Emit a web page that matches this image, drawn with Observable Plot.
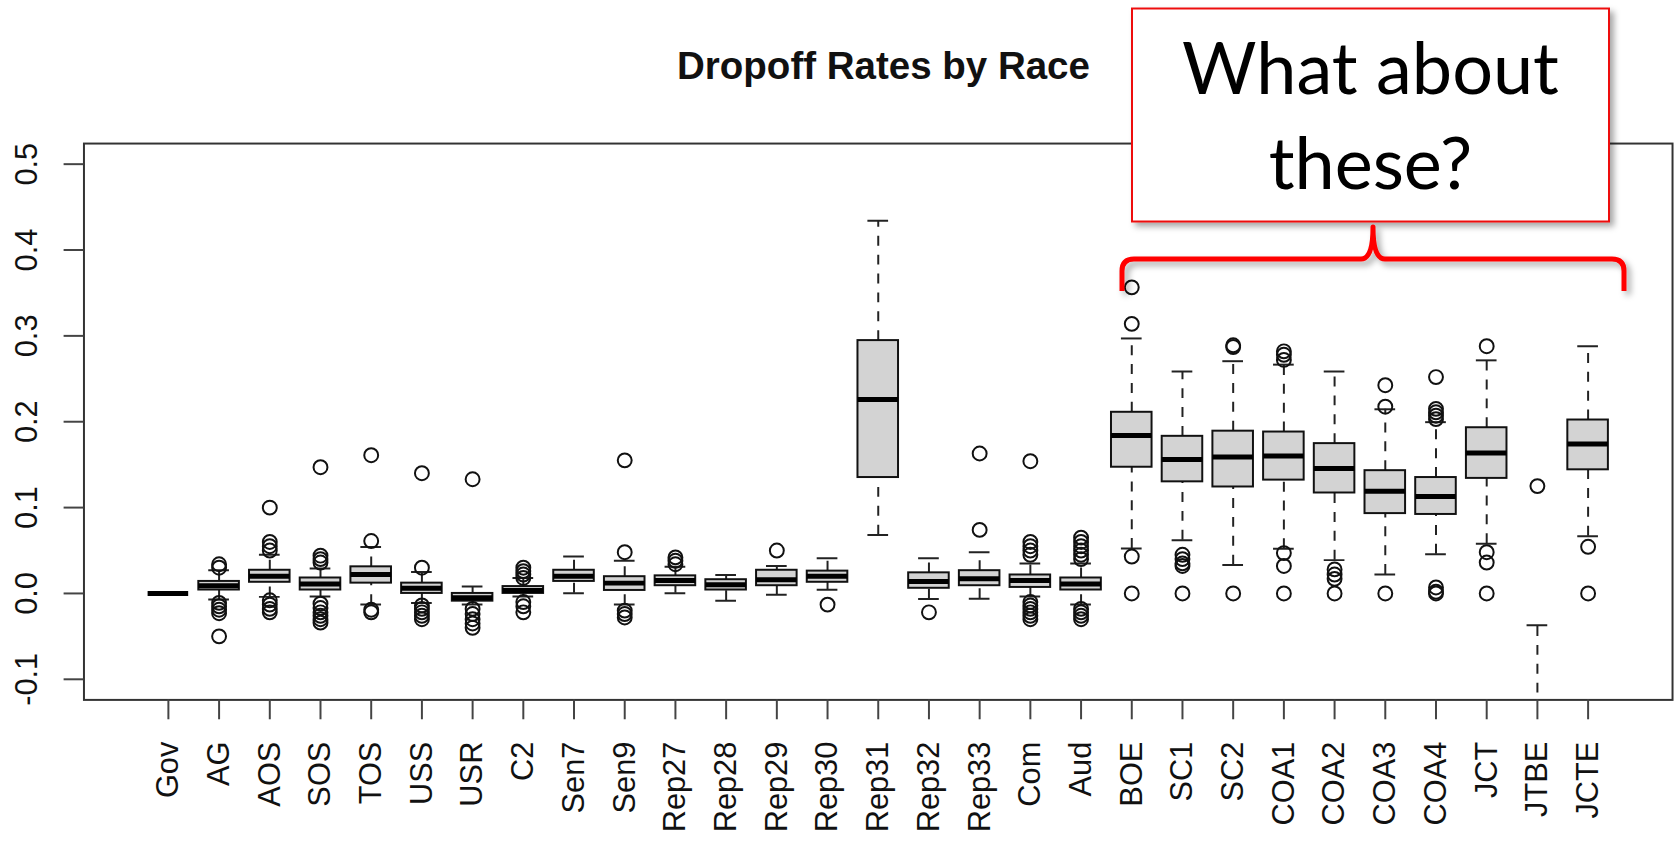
<!DOCTYPE html>
<html>
<head>
<meta charset="utf-8">
<script src="https://cdn.jsdelivr.net/npm/d3@7"></script>
<script src="https://cdn.jsdelivr.net/npm/@observablehq/plot@0.6"></script>
<style>
  html, body { margin: 0; padding: 0; background: #fff; overflow: hidden; }
  #wrap { position: relative; width: 1679px; height: 843px; overflow: hidden; }
  #chart { position: absolute; left: 0; top: 0; }
  #overlay { position: absolute; left: 0; top: 0; pointer-events: none; }
</style>
</head>
<body>
<div id="wrap">
  <div id="chart"></div>
  <svg id="overlay" width="1679" height="843" xmlns="http://www.w3.org/2000/svg">
    <defs>
      <filter id="shadow" x="-10%" y="-10%" width="130%" height="130%">
        <feDropShadow dx="4" dy="4" stdDeviation="3" flood-color="#000" flood-opacity="0.35"/>
      </filter>
    </defs>
    <text id="title" x="883.5" y="79.3" text-anchor="middle" font-family="'Liberation Sans', Arial, Helvetica, sans-serif" font-weight="bold" font-size="38.5" fill="#111"></text>
    <rect x="1132" y="8.5" width="477" height="213" fill="#fff" stroke="#ee1111" stroke-width="2" filter="url(#shadow)"/>
    <text id="call1" x="1370.5" y="94" text-anchor="middle" font-family="Lato, 'Open Sans', sans-serif" font-size="72" fill="#000"></text>
    <text id="call2" x="1370.5" y="189" text-anchor="middle" font-family="Lato, 'Open Sans', sans-serif" font-size="72" fill="#000"></text>
    <path d="M1122,291 L1122,271 Q1122,259 1134,259 L1361,259 Q1373,259 1373,227 Q1373,259 1385,259 L1612,259 Q1624,259 1624,271 L1624,291"
          fill="none" stroke="#ff0000" stroke-width="5" stroke-linejoin="round" filter="url(#shadow)"/>
  </svg>
</div>
<script>
// ---- data ----
const titleText = "Dropoff Rates by Race";
const calloutLines = ["What about", "these?"];

const names = ["Gov","AG","AOS","SOS","TOS","USS","USR","C2","Sen7","Sen9","Rep27","Rep28","Rep29","Rep30","Rep31","Rep32","Rep33","Com","Aud","BOE","SC1","SC2","COA1","COA2","COA3","COA4","JCT","JTBE","JCTE"];

const q1  = [0, 0.004, 0.013, 0.004, 0.012, 0.000, -0.009, 0.000, 0.014, 0.0035, 0.009, 0.004, 0.009, 0.013, 0.135, 0.006, 0.009, 0.007, 0.004, 0.147, 0.130, 0.124, 0.132, 0.117, 0.093, 0.092, 0.134, -0.24, 0.144];
const med = [0, 0.009, 0.020, 0.011, 0.022, 0.006, -0.005, 0.0035, 0.020, 0.012, 0.015, 0.010, 0.016, 0.020, 0.226, 0.014, 0.017, 0.015, 0.011, 0.184, 0.156, 0.159, 0.160, 0.1455, 0.119, 0.113, 0.1635, -0.20, 0.174];
const q3  = [0, 0.014, 0.027, 0.018, 0.031, 0.012, 0.000, 0.008, 0.027, 0.0195, 0.0205, 0.016, 0.027, 0.026, 0.2945, 0.024, 0.0265, 0.0215, 0.018, 0.211, 0.183, 0.189, 0.188, 0.1745, 0.143, 0.135, 0.193, -0.16, 0.202];
const hi  = [0, 0.027, 0.045, 0.029, 0.054, 0.025, 0.008, 0.018, 0.043, 0.038, 0.031, 0.0215, 0.032, 0.041, 0.434, 0.041, 0.048, 0.035, 0.035, 0.297, 0.2585, 0.2705, 0.2665, 0.2585, 0.2145, 0.1995, 0.2715, -0.037, 0.288];
const lo  = [0, -0.007, -0.004, -0.0035, -0.013, -0.011, -0.013, -0.0035, 0.0003, -0.013, 0.0003, -0.0085, -0.0015, 0.0043, 0.068, -0.0066, -0.0062, -0.0035, -0.013, 0.0523, 0.062, 0.033, 0.052, 0.0388, 0.022, 0.0456, 0.058, -0.35, 0.0667];

const outliers = [
  [],
  [0.030, 0.034, -0.011, -0.015, -0.019, -0.023, -0.050],
  [0.050, 0.055, 0.060, 0.100, -0.008, -0.013, -0.018, -0.022],
  [0.036, 0.040, 0.044, 0.147, -0.012, -0.017, -0.022, -0.026, -0.030, -0.034],
  [0.061, 0.161, -0.019, -0.022],
  [0.030, 0.140, -0.014, -0.018, -0.022, -0.026, -0.030],
  [0.133, -0.018, -0.024, -0.030, -0.035, -0.040],
  [0.018, 0.022, 0.026, 0.030, -0.010, -0.015, -0.022],
  [],
  [0.048, 0.155, -0.020, -0.024, -0.028],
  [0.034, 0.038, 0.042],
  [],
  [0.050],
  [-0.013],
  [],
  [-0.022],
  [0.074, 0.163],
  [0.045, 0.050, 0.055, 0.060, 0.154, -0.010, -0.014, -0.018, -0.022, -0.026, -0.030],
  [0.040, 0.045, 0.050, 0.055, 0.060, 0.065, -0.018, -0.022, -0.026, -0.030],
  [0.314, 0.3565, 0.043, 0.0],
  [0.045, 0.040, 0.035, 0.032, 0.0],
  [0.287, 0.289, 0.0],
  [0.272, 0.278, 0.282, 0.047, 0.032, 0.0],
  [0.028, 0.022, 0.017, 0.0],
  [0.2175, 0.2425, 0.0],
  [0.203, 0.207, 0.211, 0.215, 0.252, 0.007, 0.002, 0.0],
  [0.288, 0.048, 0.036, 0.0],
  [0.125],
  [0.0543, 0.0]
];

const yTicks = [-0.1, 0.0, 0.1, 0.2, 0.3, 0.4, 0.5];
const yLimits = [-0.1, 0.5];

// ---- build tables ----
const stats = names.map((name, i) => ({name, q1: q1[i], med: med[i], q3: q3[i], hi: hi[i], lo: lo[i]}));
const outs = names.flatMap((name, i) => outliers[i].map(v => ({name, v})));

// R extends the limits by 4% on each side
const ext = (yLimits[1] - yLimits[0]) * 0.04;

const font = "'Liberation Sans', Arial, Helvetica, sans-serif";

const chart = Plot.plot({
  width: 1690,
  height: 843,
  marginLeft: 84,
  marginRight: 7,
  marginTop: 144,
  marginBottom: 139,
  style: {fontFamily: font, fontSize: "31px", color: "#111", background: "transparent"},
  x: {type: "band", domain: names, paddingInner: 0.2, paddingOuter: 1.265, round: false},
  y: {domain: [yLimits[0] - ext, yLimits[1] + ext]},
  marks: [
    Plot.ruleX(stats, {x: "name", y1: "q3", y2: "hi", stroke: "#222", strokeWidth: 2, strokeDasharray: "10,9", clip: true}),
    Plot.ruleX(stats, {x: "name", y1: "lo", y2: "q1", stroke: "#222", strokeWidth: 2, strokeDasharray: "10,9", clip: true}),
    Plot.tickY(stats, {x: "name", y: "hi", inset: 10, stroke: "#222", strokeWidth: 2, clip: true}),
    Plot.tickY(stats, {x: "name", y: "lo", inset: 10, stroke: "#222", strokeWidth: 2, clip: true}),
    Plot.barY(stats, {x: "name", y1: "q1", y2: "q3", fill: "#d3d3d3", stroke: "#111", strokeWidth: 2, clip: true}),
    Plot.tickY(stats, {x: "name", y: "med", stroke: "#000", strokeWidth: 5, clip: true}),
    Plot.dot(outs, {x: "name", y: "v", r: 7, stroke: "#111", strokeWidth: 2, fill: "none"}),
    Plot.frame({stroke: "#333", strokeWidth: 2}),
    Plot.axisX({label: null, tickSize: 20, tickPadding: 22, tickRotate: -90, stroke: "#444", strokeWidth: 2, fontSize: 31}),
    Plot.axisY({label: null, ticks: yTicks, tickFormat: d => d.toFixed(1), tickSize: 20, tickPadding: 27, tickRotate: -90, stroke: "#444", strokeWidth: 2, fontSize: 31})
  ]
});
document.getElementById("chart").appendChild(chart);

document.getElementById("title").textContent = titleText;
document.getElementById("call1").textContent = calloutLines[0];
document.getElementById("call2").textContent = calloutLines[1];
</script>
</body>
</html>
